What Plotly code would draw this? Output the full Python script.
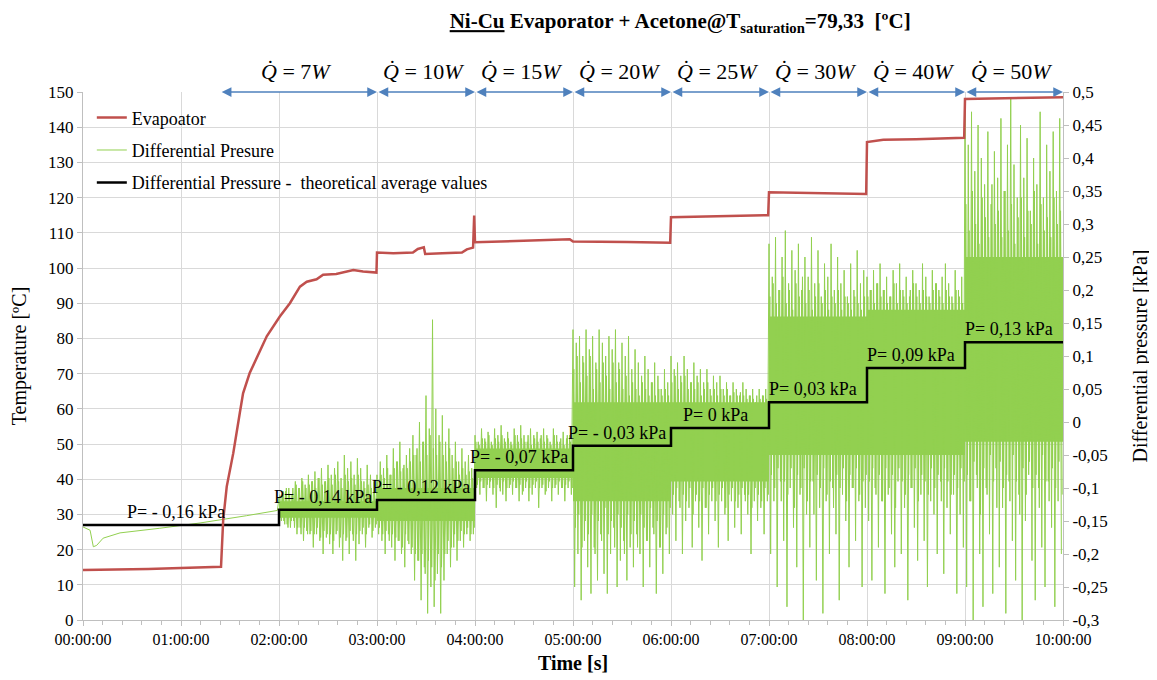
import plotly.graph_objects as go
import pandas as pd

DAY = "2000-01-01 "

# ---------------- data ----------------
# Evaporator temperature [°C]
evap_time = ["00:00:00", "00:40:00", "01:24:30", "01:25:50", "01:28:00", "01:32:00", "01:36:00",
             "01:38:00", "01:42:00", "01:52:30", "02:00:30", "02:06:40", "02:12:50", "02:17:00",
             "02:23:00", "02:27:00", "02:35:00", "02:45:30", "02:51:30", "02:59:40", "03:00:00",
             "03:10:00", "03:22:00", "03:25:00", "03:28:40", "03:29:30", "03:40:00", "03:52:00",
             "03:55:00", "03:58:50", "03:59:30", "04:00:00", "04:58:00", "05:00:00", "05:33:00",
             "05:59:30", "06:00:00", "06:30:00", "06:59:30", "07:00:00", "07:30:00", "07:59:30",
             "08:00:00", "08:10:00", "08:30:00", "08:59:30", "09:00:00", "09:30:00", "10:00:00"]
evap_temp = [14.2, 14.5, 15.1, 28.4, 37.9, 47.4, 58.8, 64.4, 70.1, 80.6, 86.2, 90.0, 94.7, 96.1,
             96.8, 98.1, 98.3, 99.4, 99.0, 98.7, 104.4, 104.2, 104.4, 105.4, 105.9, 104.0, 104.2,
             104.4, 105.3, 105.8, 114.9, 107.3, 108.2, 107.5, 107.4, 107.2, 114.4, 114.6, 115.0,
             121.5, 121.3, 121.0, 135.8, 136.4, 136.6, 137.0, 148.0, 148.3, 148.5]

# Differential pressure [kPa] - smooth start (00:00 - 02:00)
dp_init_time = ["00:00:00", "00:04:20", "00:06:20", "00:08:20", "00:12:20", "00:22:40",
                "00:47:00", "01:11:40", "01:40:00", "01:59:00"]
dp_init_val = [-0.159, -0.164, -0.189, -0.187, -0.176, -0.168, -0.161, -0.153, -0.142, -0.134]

# Differential pressure [kPa] - fluctuating part, readings on the full minute, hour by hour
dp_h2 = [-0.115, -0.14, -0.11, -0.15, -0.105, -0.155, -0.10, -0.16, -0.11, -0.15,
         -0.09, -0.17, -0.10, -0.16, -0.085, -0.18, -0.095, -0.165, -0.08, -0.17,
         -0.09, -0.19, -0.075, -0.17, -0.085, -0.18, -0.07, -0.20, -0.09, -0.175,
         -0.065, -0.185, -0.08, -0.20, -0.07, -0.17, -0.06, -0.19, -0.085, -0.21,
         -0.05, -0.18, -0.07, -0.20, -0.06, -0.17, -0.08, -0.21, -0.055, -0.185,
         -0.07, -0.17, -0.09, -0.19, -0.065, -0.16, -0.08, -0.175, -0.09, -0.16]
dp_h3 = [-0.08, -0.17, -0.06, -0.18, -0.07, -0.20, -0.05, -0.17, -0.08, -0.19,
         -0.04, -0.21, -0.06, -0.18, -0.03, -0.20, -0.07, -0.22, -0.05, -0.18,
         -0.04, -0.20, -0.02, -0.24, -0.05, -0.21, 0.00, -0.27, -0.03, -0.22,
         0.04, -0.29, -0.01, -0.25, 0.155, -0.28, 0.02, -0.23, -0.02, -0.29,
         0.01, -0.24, -0.03, -0.20, -0.01, -0.22, -0.05, -0.19, -0.03, -0.21,
         -0.06, -0.18, -0.04, -0.19, -0.06, -0.17, -0.05, -0.18, -0.07, -0.17]
dp_h4 = [-0.02, -0.10, -0.03, -0.11, -0.01, -0.10, -0.025, -0.12, -0.015, -0.10,
         -0.03, -0.11, -0.01, -0.13, -0.02, -0.10, -0.005, -0.11, -0.025, -0.12,
         -0.015, -0.10, -0.03, -0.11, -0.01, -0.10, -0.02, -0.12, -0.005, -0.11,
         -0.02, -0.10, -0.03, -0.12, -0.01, -0.11, -0.02, -0.10, -0.015, -0.13,
         -0.025, -0.10, -0.01, -0.11, -0.02, -0.10, -0.03, -0.12, -0.01, -0.10,
         -0.02, -0.11, -0.03, -0.10, -0.015, -0.12, -0.025, -0.10, -0.02, -0.11]
dp_h5 = [0.14, -0.25, 0.12, -0.20, 0.13, -0.27, 0.10, -0.18, 0.14, -0.22,
         0.11, -0.26, 0.13, -0.19, 0.09, -0.24, 0.14, -0.17, 0.12, -0.23,
         0.10, -0.26, 0.13, -0.20, 0.11, -0.16, 0.14, -0.25, 0.09, -0.21,
         0.12, -0.18, 0.10, -0.24, 0.13, -0.19, 0.08, -0.22, 0.11, -0.17,
         0.09, -0.20, 0.07, -0.25, 0.10, -0.18, 0.08, -0.22, 0.06, -0.16,
         0.09, -0.26, 0.07, -0.19, 0.05, -0.23, 0.08, -0.17, 0.06, -0.20]
dp_h6 = [0.10, -0.14, 0.08, -0.18, 0.09, -0.12, 0.07, -0.20, 0.10, -0.15,
         0.08, -0.13, 0.06, -0.19, 0.09, -0.12, 0.07, -0.16, 0.08, -0.21,
         0.06, -0.13, 0.08, -0.17, 0.05, -0.12, 0.07, -0.15, 0.06, -0.19,
         0.07, -0.12, 0.05, -0.14, 0.06, -0.18, 0.04, -0.12, 0.06, -0.16,
         0.05, -0.13, 0.04, -0.17, 0.06, -0.11, 0.05, -0.14, 0.04, -0.20,
         0.05, -0.12, 0.03, -0.15, 0.05, -0.13, 0.04, -0.17, 0.05, -0.12]
dp_h7 = [0.27, -0.20, 0.22, -0.12, 0.28, -0.25, 0.20, -0.09, 0.25, -0.18,
         0.29, -0.28, 0.21, -0.10, 0.26, -0.16, 0.23, -0.22, 0.27, -0.11,
         0.20, -0.30, 0.25, -0.14, 0.22, -0.19, 0.28, -0.09, 0.21, -0.24,
         0.26, -0.13, 0.19, -0.29, 0.24, -0.12, 0.22, -0.20, 0.27, -0.10,
         0.20, -0.17, 0.25, -0.27, 0.21, -0.11, 0.23, -0.15, 0.19, -0.22,
         0.24, -0.10, 0.20, -0.18, 0.26, -0.12, 0.21, -0.25, 0.23, -0.13]
dp_h8 = [0.22, -0.15, 0.20, -0.24, 0.23, -0.10, 0.21, -0.19, 0.24, -0.12,
         0.20, -0.26, 0.22, -0.11, 0.19, -0.17, 0.23, -0.22, 0.21, -0.09,
         0.24, -0.20, 0.20, -0.13, 0.22, -0.27, 0.19, -0.10, 0.23, -0.16,
         0.21, -0.21, 0.20, -0.11, 0.24, -0.18, 0.22, -0.25, 0.19, -0.12,
         0.23, -0.14, 0.21, -0.20, 0.20, -0.09, 0.22, -0.23, 0.24, -0.13,
         0.21, -0.17, 0.19, -0.11, 0.23, -0.26, 0.20, -0.14, 0.22, -0.19]
dp_h9 = [0.49, -0.25, 0.42, -0.12, 0.47, -0.30, 0.38, -0.08, 0.45, -0.20,
         0.40, -0.28, 0.36, -0.10, 0.44, -0.17, 0.33, -0.26, 0.41, -0.07,
         0.37, -0.22, 0.46, -0.13, 0.35, -0.29, 0.42, -0.09, 0.49, -0.18,
         0.39, -0.24, 0.34, -0.11, 0.45, -0.30, 0.37, -0.15, 0.43, -0.08,
         0.32, -0.21, 0.40, -0.27, 0.36, -0.10, 0.47, -0.19, 0.34, -0.25,
         0.42, -0.09, 0.38, -0.16, 0.44, -0.28, 0.35, -0.12, 0.46, -0.20]

# Differential pressure [kPa] - readings on the half minute, hour by hour
dp_m2 = [-0.11, -0.15, -0.105, -0.155, -0.10, -0.16, -0.11, -0.15, -0.10, -0.16,
         -0.095, -0.16, -0.10, -0.17, -0.09, -0.16, -0.10, -0.17, -0.095, -0.165,
         -0.09, -0.17, -0.10, -0.16, -0.085, -0.175, -0.095, -0.165, -0.09, -0.17,
         -0.085, -0.17, -0.095, -0.18, -0.08, -0.165, -0.09, -0.175, -0.10, -0.17,
         -0.08, -0.175, -0.09, -0.165, -0.085, -0.18, -0.095, -0.17, -0.08, -0.165,
         -0.09, -0.16, -0.10, -0.17, -0.095, -0.155, -0.10, -0.165, -0.105, -0.155]
dp_m3 = [-0.09, -0.16, -0.08, -0.17, -0.085, -0.165, -0.07, -0.18, -0.08, -0.17,
         -0.07, -0.175, -0.06, -0.18, -0.075, -0.19, -0.065, -0.17, -0.07, -0.185,
         -0.06, -0.19, -0.05, -0.20, -0.04, -0.21, -0.06, -0.20, -0.03, -0.23,
         -0.05, -0.21, -0.02, -0.22, -0.04, -0.24, -0.05, -0.20, -0.03, -0.22,
         -0.05, -0.20, -0.06, -0.18, -0.04, -0.19, -0.07, -0.17, -0.06, -0.18,
         -0.08, -0.165, -0.07, -0.17, -0.08, -0.16, -0.075, -0.17, -0.085, -0.16]
dp_m4 = [-0.03, -0.095, -0.035, -0.09, -0.025, -0.10, -0.03, -0.095, -0.02, -0.09,
         -0.035, -0.10, -0.025, -0.095, -0.03, -0.105, -0.02, -0.09, -0.03, -0.10,
         -0.025, -0.095, -0.035, -0.09, -0.02, -0.10, -0.03, -0.095, -0.025, -0.105,
         -0.03, -0.09, -0.02, -0.10, -0.035, -0.095, -0.025, -0.09, -0.03, -0.10,
         -0.02, -0.095, -0.03, -0.105, -0.025, -0.09, -0.035, -0.10, -0.02, -0.095,
         -0.03, -0.09, -0.025, -0.10, -0.035, -0.095, -0.02, -0.09, -0.03, -0.10]
dp_m5 = [0.08, -0.16, 0.10, -0.14, 0.06, -0.19, 0.09, -0.15, 0.07, -0.17,
         0.10, -0.14, 0.05, -0.20, 0.08, -0.15, 0.06, -0.18, 0.09, -0.13,
         0.07, -0.17, 0.05, -0.15, 0.09, -0.19, 0.06, -0.14, 0.08, -0.16,
         0.05, -0.20, 0.07, -0.14, 0.04, -0.17, 0.06, -0.15, 0.05, -0.19,
         0.04, -0.14, 0.06, -0.16, 0.05, -0.18, 0.04, -0.13, 0.06, -0.17,
         0.04, -0.15, 0.05, -0.19, 0.04, -0.14, 0.05, -0.16, 0.04, -0.13]
dp_m6 = [0.06, -0.11, 0.07, -0.10, 0.05, -0.13, 0.06, -0.11, 0.07, -0.12,
         0.05, -0.10, 0.06, -0.14, 0.05, -0.11, 0.06, -0.12, 0.04, -0.10,
         0.05, -0.13, 0.06, -0.11, 0.04, -0.10, 0.05, -0.12, 0.04, -0.11,
         0.05, -0.10, 0.04, -0.13, 0.05, -0.11, 0.04, -0.10, 0.045, -0.12,
         0.04, -0.11, 0.045, -0.10, 0.04, -0.12, 0.035, -0.11, 0.04, -0.13,
         0.035, -0.10, 0.04, -0.11, 0.035, -0.12, 0.04, -0.10, 0.035, -0.11]
dp_m7 = [0.19, -0.08, 0.21, -0.10, 0.18, -0.07, 0.20, -0.12, 0.22, -0.09,
         0.18, -0.11, 0.20, -0.07, 0.17, -0.13, 0.21, -0.08, 0.19, -0.10,
         0.22, -0.07, 0.18, -0.12, 0.20, -0.09, 0.17, -0.14, 0.19, -0.08,
         0.21, -0.10, 0.18, -0.07, 0.20, -0.11, 0.17, -0.09, 0.19, -0.13,
         0.18, -0.08, 0.20, -0.10, 0.17, -0.07, 0.19, -0.12, 0.18, -0.08,
         0.17, -0.10, 0.19, -0.07, 0.18, -0.11, 0.17, -0.09, 0.19, -0.08]
dp_m8 = [0.19, -0.09, 0.20, -0.07, 0.18, -0.11, 0.21, -0.08, 0.19, -0.12,
         0.20, -0.07, 0.18, -0.10, 0.19, -0.08, 0.21, -0.13, 0.18, -0.07,
         0.20, -0.09, 0.19, -0.11, 0.18, -0.08, 0.20, -0.10, 0.21, -0.07,
         0.19, -0.12, 0.18, -0.08, 0.20, -0.09, 0.19, -0.11, 0.18, -0.07,
         0.20, -0.10, 0.21, -0.08, 0.19, -0.12, 0.18, -0.07, 0.20, -0.09,
         0.19, -0.11, 0.18, -0.08, 0.20, -0.10, 0.19, -0.07, 0.18, -0.09]
dp_m9 = [0.33, -0.08, 0.29, -0.12, 0.35, -0.06, 0.30, -0.10, 0.27, -0.14,
         0.34, -0.07, 0.31, -0.11, 0.28, -0.05, 0.36, -0.09, 0.30, -0.13,
         0.32, -0.06, 0.28, -0.10, 0.35, -0.08, 0.29, -0.12, 0.33, -0.05,
         0.27, -0.09, 0.31, -0.14, 0.34, -0.07, 0.28, -0.11, 0.32, -0.06,
         0.30, -0.10, 0.35, -0.08, 0.27, -0.13, 0.33, -0.05, 0.29, -0.09,
         0.31, -0.12, 0.28, -0.07, 0.34, -0.10, 0.30, -0.06, 0.32, -0.11]

# dense core of the fluctuating signal, per hour [kPa]
core_time = ["02:00:00", "03:00:00", "04:00:00", "05:00:00", "06:00:00", "07:00:00",
             "08:00:00", "09:00:00", "10:00:00"]
core_hi = [-0.12, -0.10, -0.04, 0.03, 0.03, 0.16, 0.17, 0.25, 0.25]
core_lo = [-0.145, -0.15, -0.085, -0.12, -0.09, -0.05, -0.05, -0.03, -0.03]

# theoretical average differential pressure [kPa]
step_time = ["00:00:00", "02:00:00", "03:00:00", "04:00:00", "05:00:00", "06:00:00",
             "07:00:00", "08:00:00", "09:00:00", "10:00:00"]
step_val = [-0.156, -0.133, -0.118, -0.073, -0.036, -0.009, 0.030, 0.082, 0.121, 0.121]
step_label_time = ["01:00:00", "02:30:00", "03:30:00", "04:30:00", "05:30:00", "06:30:00",
                   "07:30:00", "08:30:00", "09:30:00"]
step_labels = ["P= - 0,16 kPa", "P= - 0,14 kPa", "P= - 0,12 kPa", "P= - 0,07 kPa",
               "P= - 0,03 kPa", "P= 0 kPa", "P= 0,03 kPa", "P= 0,09 kPa", "P= 0,13 kPa"]

# heat input periods
q_start = ["01:24:00", "03:00:00", "04:00:00", "05:00:00", "06:00:00", "07:00:00",
           "08:00:00", "09:00:00"]
q_end = ["03:00:00", "04:00:00", "05:00:00", "06:00:00", "07:00:00", "08:00:00",
         "09:00:00", "10:00:00"]
q_watts = [7, 10, 15, 20, 25, 30, 40, 50]

# axis ticks
x_ticks = ["00:00:00", "01:00:00", "02:00:00", "03:00:00", "04:00:00", "05:00:00",
           "06:00:00", "07:00:00", "08:00:00", "09:00:00", "10:00:00"]
t_ticks = list(range(0, 151, 10))
p_ticks = [-0.3, -0.25, -0.2, -0.15, -0.1, -0.05, 0, 0.05, 0.1, 0.15, 0.2, 0.25, 0.3,
           0.35, 0.4, 0.45, 0.5]
p_ticktext = ["-0,3", "-0,25", "-0,2", "-0,15", "-0,1", "-0,05", "0", "0,05", "0,1", "0,15",
              "0,2", "0,25", "0,3", "0,35", "0,4", "0,45", "0,5"]

# ---------------- build ----------------
def ts(lst):
    return pd.to_datetime([DAY + t for t in lst])

noise_vals = dp_h2 + dp_h3 + dp_h4 + dp_h5 + dp_h6 + dp_h7 + dp_h8 + dp_h9
noise_time = pd.date_range(DAY + "02:00:00", periods=len(noise_vals), freq="1min")
dp_time = list(ts(dp_init_time)) + list(noise_time)
dp_vals = dp_init_val + noise_vals

mid_vals = dp_m2 + dp_m3 + dp_m4 + dp_m5 + dp_m6 + dp_m7 + dp_m8 + dp_m9
mid_time = pd.date_range(DAY + "02:00:30", periods=len(mid_vals), freq="1min")

FONT = "Liberation Serif"
GREEN = "rgb(146,208,80)"
RED = "rgb(192,80,77)"
BLUE = "#4f81bd"
GRID = "#d9d9d9"
AX = "#bfbfbf"

fig = go.Figure()

# pressure axis = y (right side), temperature axis = y2 (left side, drawn on top)
fig.add_trace(go.Scatter(x=ts(core_time), y=core_lo, mode="lines",
                         line=dict(width=0, shape="hv", color=GREEN),
                         showlegend=False, hoverinfo="skip", yaxis="y", legendgroup="b"))
fig.add_trace(go.Scatter(x=ts(core_time), y=core_hi, mode="lines",
                         line=dict(width=0, shape="hv", color=GREEN),
                         fill="tonexty", fillcolor=GREEN, showlegend=False, hoverinfo="skip",
                         yaxis="y", legendgroup="b"))
fig.add_trace(go.Scatter(x=mid_time, y=mid_vals, mode="lines", showlegend=False,
                         line=dict(color=GREEN, width=1), yaxis="y", legendgroup="b",
                         hoverinfo="skip"))
fig.add_trace(go.Scatter(x=dp_time, y=dp_vals, mode="lines", name="Differential Presure",
                         line=dict(color=GREEN, width=1), yaxis="y", legendgroup="b",
                         legendrank=2))
fig.add_trace(go.Scatter(x=ts(step_time), y=step_val, mode="lines",
                         name="Differential Pressure -  theoretical average values",
                         line=dict(color="black", width=2.5, shape="hv"), yaxis="y",
                         legendgroup="c", legendrank=3))
fig.add_trace(go.Scatter(x=ts(evap_time), y=evap_temp, mode="lines", name="Evapoator",
                         line=dict(color=RED, width=2.5), yaxis="y2", legendgroup="a",
                         legendrank=1))

annotations = []
for t, v, lab in zip(step_label_time, step_val, step_labels):
    annotations.append(dict(x=DAY + t, y=v, xref="x", yref="y", text=lab, showarrow=False,
                            xanchor="center", yanchor="middle", yshift=13, xshift=-5,
                            font=dict(family=FONT, size=18, color="black")))

for s, e, w in zip(q_start, q_end, q_watts):
    annotations.append(dict(x=DAY + e, y=150, xref="x", yref="y2", ax=DAY + s, ay=150,
                            axref="x", ayref="y2", text="", showarrow=True, arrowhead=2,
                            arrowside="end+start", arrowsize=1.3, arrowwidth=1.5,
                            arrowcolor=BLUE, standoff=0, startstandoff=0))
    mid = pd.Timestamp(DAY + s) + (pd.Timestamp(DAY + e) - pd.Timestamp(DAY + s)) / 2
    annotations.append(dict(x=mid, y=150, xref="x", yref="y2",
                            text="<i>Q\u0307</i> = %d<i>W</i>" % w, showarrow=False,
                            xanchor="center", yanchor="middle", yshift=21, xshift=-3,
                            font=dict(family=FONT, size=22, color="black")))

fig.update_layout(
    width=1149, height=672,
    margin=dict(l=75, r=94, t=84, b=60),
    plot_bgcolor="white", paper_bgcolor="white",
    font=dict(family=FONT, size=16, color="black"),
    title=dict(text="<b><u>Ni-Cu</u> Evaporator + Acetone@T<sub>saturation</sub>=79,33  [ºC]</b>",
               x=0.585, xanchor="center", y=0.981, yanchor="middle",
               font=dict(family=FONT, size=21, color="black")),
    legend=dict(x=0.009, y=0.986, xanchor="left", yanchor="top", bgcolor="rgba(0,0,0,0)",
                font=dict(family=FONT, size=18, color="black"), traceorder="grouped",
                tracegroupgap=6),
    xaxis=dict(type="date", range=[DAY + "00:00:00", DAY + "10:00:00"], automargin=False,
               tickvals=[DAY + t for t in x_ticks], ticktext=x_ticks,
               showgrid=True, gridcolor=GRID, gridwidth=1, showline=True, linecolor=AX,
               ticks="outside", ticklen=5, tickcolor=AX, zeroline=False,
               minor=dict(tick0=DAY + "00:00:00", dtick=720000, ticks="outside", ticklen=4,
                          tickcolor=AX, showgrid=False),
               tickfont=dict(family=FONT, size=16, color="black"),
               title=dict(text="<b>Time [s]</b>", standoff=8,
                          font=dict(family=FONT, size=20, color="black"))),
    yaxis=dict(range=[-0.3, 0.5], side="right", tickvals=p_ticks, ticktext=p_ticktext,
               automargin=False,
               showgrid=False, zeroline=False, showline=True, linecolor=AX,
               ticks="outside", ticklen=5, tickcolor=AX,
               tickfont=dict(family=FONT, size=17, color="black"),
               title=dict(text="Differential pressure [kPa]", standoff=26,
                          font=dict(family=FONT, size=20, color="black"))),
    yaxis2=dict(range=[0, 150], side="left", overlaying="y", tickvals=t_ticks,
                automargin=False,
                showgrid=True, gridcolor=GRID, gridwidth=1, zeroline=False, showline=True,
                linecolor=AX, ticks="outside", ticklen=5, tickcolor=AX,
                tickfont=dict(family=FONT, size=17, color="black"),
                title=dict(text="Temperature [ºC]", standoff=16,
                           font=dict(family=FONT, size=20, color="black"))),
    annotations=annotations,
)

fig.write_html("out.html")
